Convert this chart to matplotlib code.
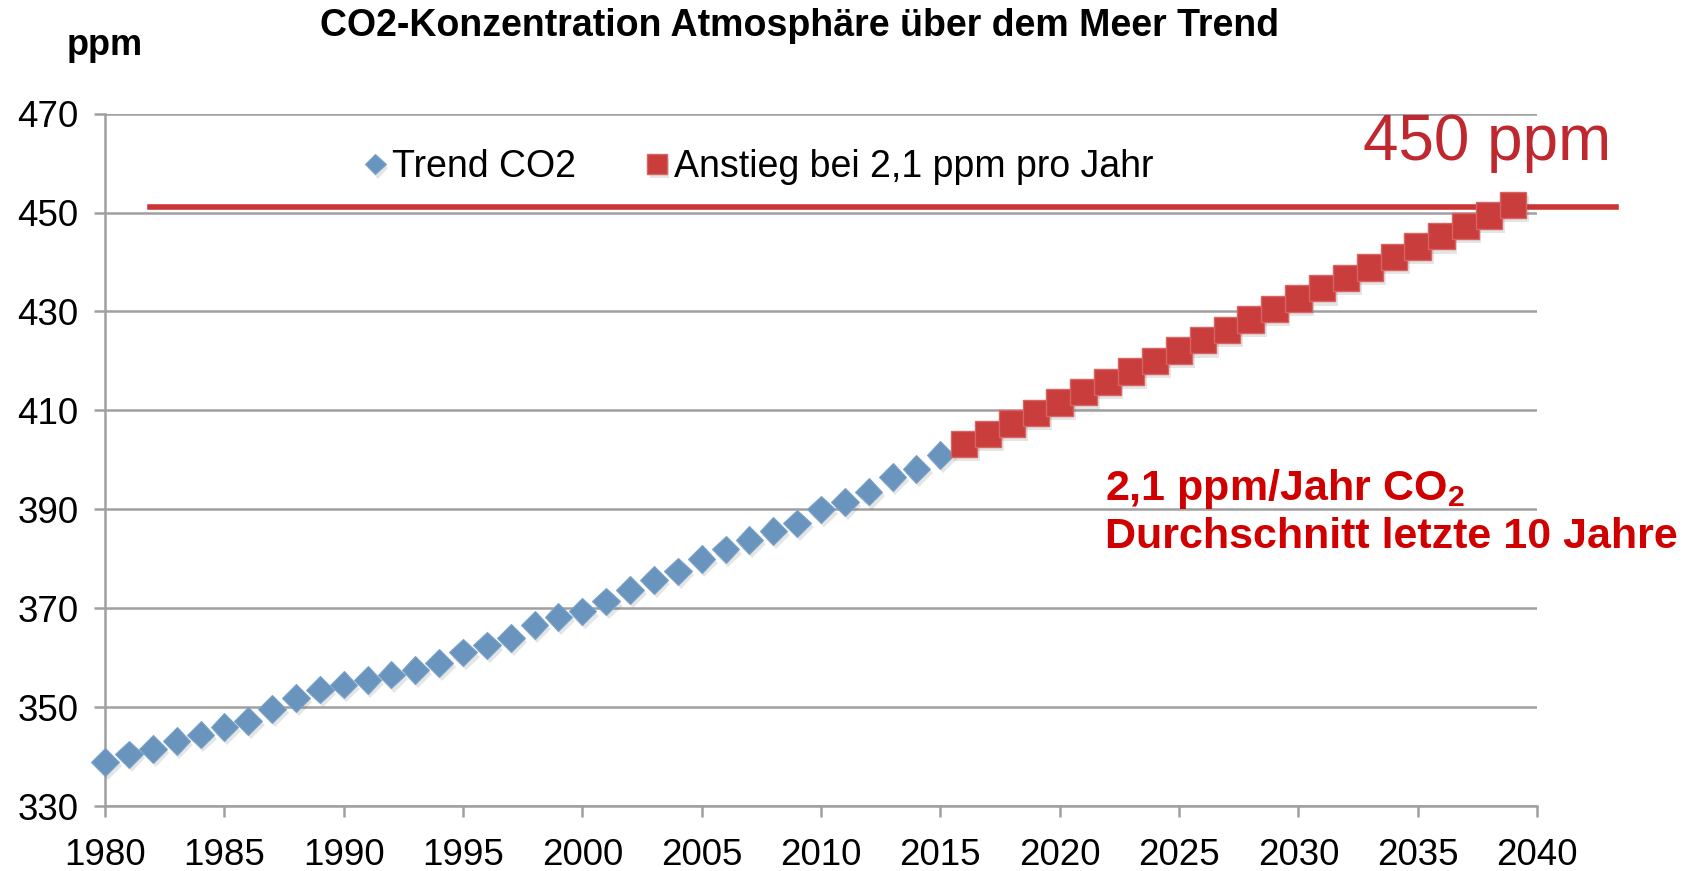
import matplotlib
matplotlib.use('Agg')
import matplotlib.pyplot as plt
import matplotlib.patheffects as pe

years_trend = list(range(1980, 2016))
co2_trend = [339.0, 340.5, 341.6, 343.2, 344.5, 346.0, 347.2, 349.7, 351.9, 353.6,
             354.6, 355.5, 356.6, 357.5, 359.0, 361.1, 362.5, 364.0, 366.6, 368.3,
             369.4, 371.4, 373.7, 375.7, 377.5, 380.0, 381.9, 383.8, 385.6, 387.2,
             390.0, 391.5, 393.6, 396.5, 398.2, 401.0]

# projection at 2.1 ppm per year
years_proj = list(range(2016, 2040))
co2_proj = [403.2, 405.3, 407.4, 409.5, 411.6, 413.7, 415.8, 417.9, 420.0, 422.1,
            424.2, 426.3, 428.4, 430.5, 432.6, 434.7, 436.8, 438.9, 441.0, 443.1,
            445.2, 447.3, 449.4, 451.5]

limit_ppm = 451.2
limit_years = [1981.9, 2043.3]

x_ticks = [1980, 1985, 1990, 1995, 2000, 2005, 2010, 2015, 2020, 2025, 2030, 2035, 2040]
y_ticks = [330, 350, 370, 390, 410, 430, 450, 470]

plt.rcParams['font.family'] = ['Liberation Sans', 'DejaVu Sans']
plt.rcParams['mathtext.fontset'] = 'custom'
plt.rcParams['mathtext.rm'] = 'Liberation Sans'
plt.rcParams['mathtext.bf'] = 'Liberation Sans:bold'

fig = plt.figure(figsize=(16.97, 8.71), dpi=100)
ax = fig.add_axes([0.0619, 0.0743, 0.8438, 0.7953])

shadow = [pe.SimplePatchShadow(offset=(2, -3), alpha=0.15, shadow_rgbFace='#555555'), pe.Normal()]

# 450 ppm limit line
ax.plot(limit_years, [limit_ppm, limit_ppm], color='#cc3535', lw=4, clip_on=False, zorder=3)

ax.plot(years_trend, co2_trend, linestyle='none', marker='D', markersize=14,
        color='#6894bd', markeredgecolor='#7aa2c8', markeredgewidth=0.8,
        clip_on=False, zorder=4, path_effects=shadow, label='Trend CO2')
ax.plot(years_proj, co2_proj, linestyle='none', marker='s', markersize=19,
        color='#c93d3d', markeredgecolor='#d86464', markeredgewidth=1.0,
        clip_on=False, zorder=4, path_effects=shadow, label='Anstieg bei 2,1 ppm pro Jahr')

ax.set_xlim(1980, 2040)
ax.set_ylim(330, 470)
ax.set_xticks(x_ticks)
ax.set_yticks(y_ticks)
ax.tick_params(axis='both', labelsize=26.5, length=8, width=1.8, color='#a0a0a0', pad=11)
ax.tick_params(axis='x', pad=15)
ax.grid(axis='y', color='#a0a0a0', lw=1.8)
ax.set_axisbelow(True)
for side in ['top', 'right']:
    ax.spines[side].set_visible(False)
for side in ['left', 'bottom']:
    ax.spines[side].set_color('#a0a0a0')
    ax.spines[side].set_linewidth(1.8)

leg = fig.legend(loc='center', bbox_to_anchor=(0.4475, 0.808), ncol=2, frameon=False,
                 fontsize=27, markerscale=0.75, handlelength=0.5, handletextpad=0.2,
                 columnspacing=1.9)

fig.text(0.471, 0.959, 'CO2-Konzentration Atmosphäre über dem Meer Trend',
         ha='center', va='baseline', fontsize=27, fontweight='bold')
fig.text(0.0395, 0.937, 'ppm', ha='left', va='baseline', fontsize=26, fontweight='bold')

ax.text(2032.7, 460.6, '450 ppm', color='#c0282f', fontsize=46,
        ha='left', va='baseline', clip_on=False)
ax.text(2021.9, 391.9, r'2,1 ppm/Jahr CO$_\mathbf{2}$', color='#d00000', fontsize=31,
        fontweight='bold', ha='left', va='baseline', clip_on=False)
ax.text(2021.9, 382.3, 'Durchschnitt letzte 10 Jahre', color='#d00000', fontsize=31,
        fontweight='bold', ha='left', va='baseline', clip_on=False)

fig.savefig('out.png', dpi=100)
